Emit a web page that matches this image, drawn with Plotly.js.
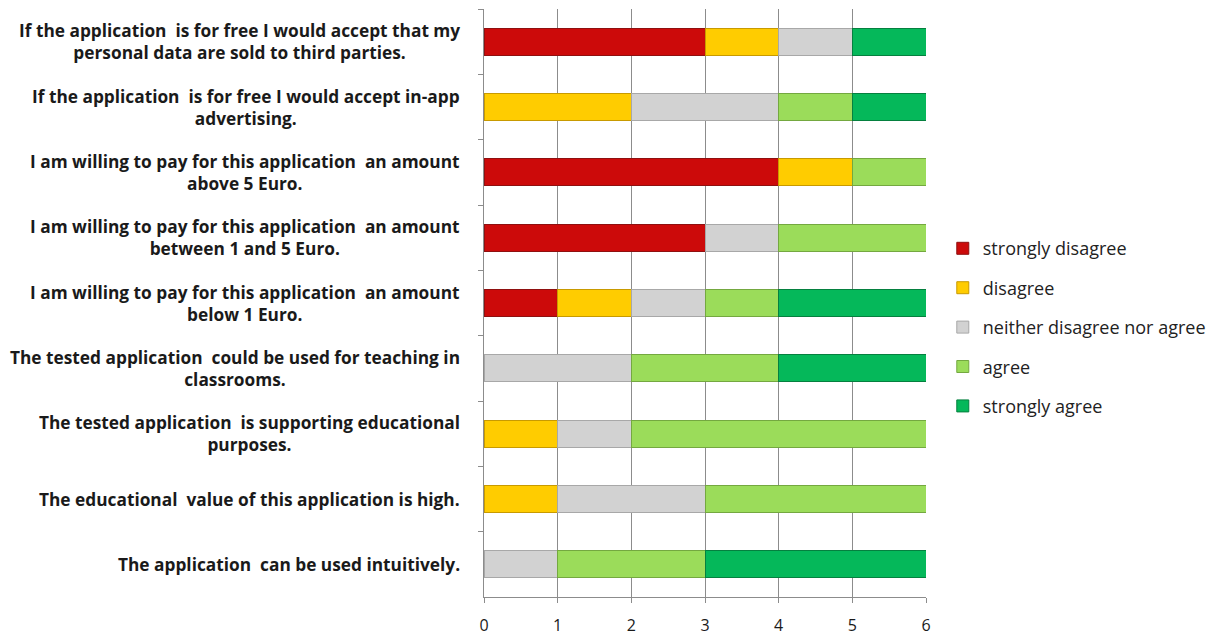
<!DOCTYPE html>
<html>
<head>
<meta charset="utf-8">
<script src="https://cdn.plot.ly/plotly-3.0.1.min.js"></script>
<style>html,body{margin:0;padding:0;background:#fff;}#chart{width:1222px;height:641px;}</style>
</head>
<body>
<div id="chart"></div>
<script>
// Categories, top to bottom
var categories = [
  "If the application  is for free I would accept that my<br>personal data are sold to third parties.",
  "If the application  is for free I would accept in-app<br>advertising.",
  "I am willing to pay for this application  an amount<br>above 5 Euro.",
  "I am willing to pay for this application  an amount<br>between 1 and 5 Euro.",
  "I am willing to pay for this application  an amount<br>below 1 Euro.",
  "The tested application  could be used for teaching in<br>classrooms.",
  "The tested application  is supporting educational<br>purposes.",
  "The educational  value of this application is high.",
  "The application  can be used intuitively."
];
var seriesNames = ["strongly disagree", "disagree", "neither disagree nor agree", "agree", "strongly agree"];
var stronglyDisagree = [3, 0, 4, 3, 1, 0, 0, 0, 0];
var disagree         = [1, 2, 1, 0, 1, 0, 1, 1, 0];
var neither          = [1, 2, 0, 1, 1, 2, 1, 2, 1];
var agree            = [0, 1, 1, 2, 1, 2, 4, 3, 2];
var stronglyAgree    = [1, 1, 0, 0, 2, 2, 0, 0, 3];
var xTicks = [0, 1, 2, 3, 4, 5, 6];

var seriesValues = [stronglyDisagree, disagree, neither, agree, stronglyAgree];
var fillColors = ["#cc0a0a", "#ffcc00", "#d2d2d2", "#9bdc5a", "#05b85a"];
var lineColors = ["#8f1010", "#c89a00", "#a8a8a8", "#74a840", "#05803f"];

var traces = seriesNames.map(function(name, i){
  return {
    type: "bar", orientation: "h", name: name,
    x: seriesValues[i], y: categories,
    width: 0.41,
    legendgroup: "g" + i,
    marker: {color: fillColors[i], line: {color: lineColors[i], width: 1}},
    hoverinfo: "x+name"
  };
});

var annotations = categories.map(function(c){
  return {
    xref: "paper", yref: "y", x: -0.05, y: c,
    xanchor: "right", yanchor: "middle", align: "center",
    text: c, showarrow: false,
    font: {family: "'Open Sans', sans-serif", size: 17.3, color: "#1a1a1a", weight: "bold"}
  };
});

var layout = {
  width: 1222, height: 641,
  margin: {l: 484, r: 296, t: 9, b: 44},
  paper_bgcolor: "#ffffff", plot_bgcolor: "#ffffff",
  barmode: "stack",
  bargap: 0.59,
  showlegend: true,
  legend: {
    x: 1.038, y: 0.459, xanchor: "left", yanchor: "middle",
    traceorder: "grouped", tracegroupgap: 13,
    font: {family: "'Open Sans', sans-serif", size: 18, color: "#222"},
    itemwidth: 30
  },
  xaxis: {
    range: [0, 6], tickvals: xTicks, ticktext: xTicks.map(String),
    showgrid: true, gridcolor: "#8c8c8c", gridwidth: 1,
    zeroline: false,
    showline: true, linecolor: "#8c8c8c", linewidth: 1,
    ticks: "outside", ticklen: 5, tickcolor: "#8c8c8c",
    ticklabelstandoff: 9,
    tickfont: {family: "'Open Sans', sans-serif", size: 16, color: "#1a1a1a"},
    fixedrange: true
  },
  yaxis: {
    type: "category", categoryorder: "array", categoryarray: categories,
    autorange: "reversed",
    showticklabels: false,
    showline: true, linecolor: "#8c8c8c", linewidth: 1,
    ticks: "outside", tickson: "boundaries", ticklen: 5, tickcolor: "#8c8c8c",
    showgrid: false, zeroline: false, fixedrange: true
  },
  annotations: annotations
};

Plotly.newPlot("chart", traces, layout, {displayModeBar: false, staticPlot: true});
</script>
</body>
</html>
